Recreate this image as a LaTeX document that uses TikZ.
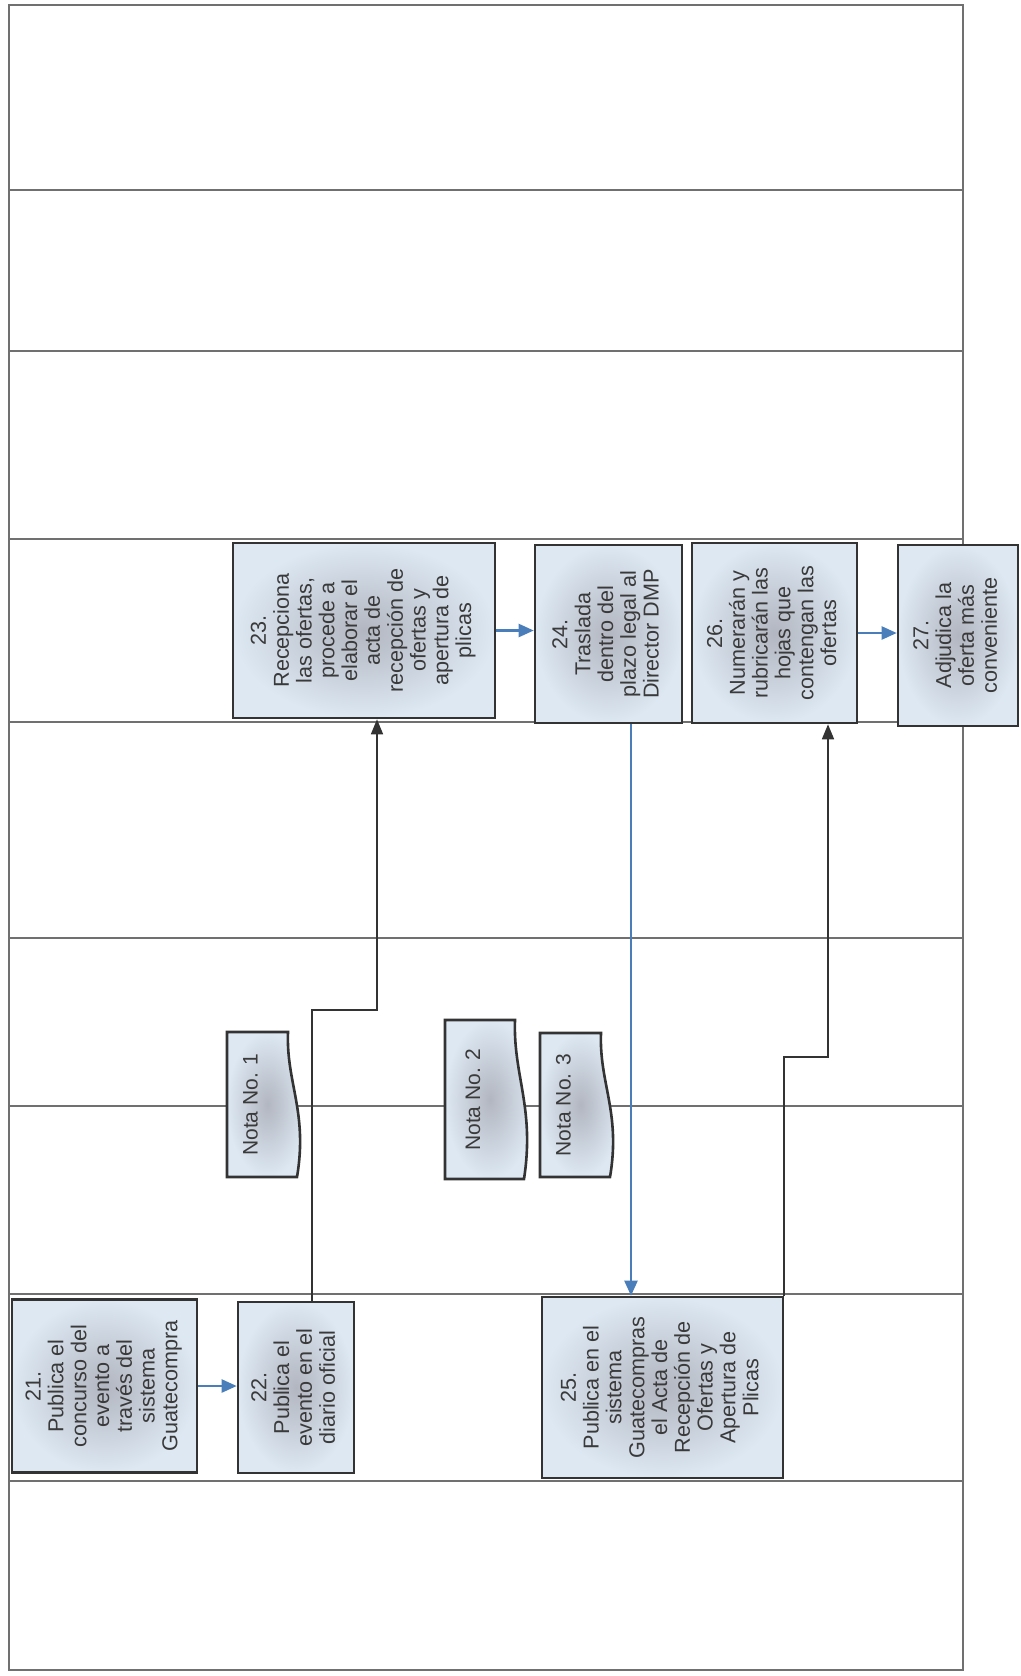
\documentclass[tikz,border=0pt]{standalone}
\usepackage{fontspec}
\setmainfont{Liberation Sans}
\usepackage{graphicx}
\usetikzlibrary{arrows.meta,positioning,calc}
\definecolor{lanegray}{HTML}{707070}
\definecolor{boxedge}{HTML}{333333}
\definecolor{boxfill}{HTML}{DDE8F3}
\definecolor{boxcore}{HTML}{B2B6C0}
\definecolor{flowblue}{HTML}{4A7EBB}
\definecolor{txt}{HTML}{3A3A3A}

% rotated multi-line text
\newcommand{\vlines}[1]{\rotatebox{90}{\begin{tabular}{@{}c@{}}#1\end{tabular}}}

% document shape with wavy right side: name, x1, y1, x2, y2, text
\newcommand{\nota}[6]{%
  \path[notashape] (#2,#3) -- (#4-12,#3)
    .. controls (#4-14,{#3+0.35*(#5-#3)}) and (#4+8,{#3+0.55*(#5-#3)}) .. (#4-3,#5)
    -- (#2,#5) -- cycle;
  \node[notatext] (#1) at ({(#2+#4)/2-13},{(#3+#5)/2}) {\rotatebox{90}{#6}};
}

\begin{document}
\begin{tikzpicture}[x=0.5pt, y=-0.5pt,
  proc/.style 2 args={rectangle, draw=boxedge, line width=1.3pt, shading=radial,
    inner color=boxcore, outer color=boxfill, minimum width={#1*0.5pt}, minimum height={#2*0.5pt},
    inner sep=0pt, font=\fontsize{10.8}{11.4}\selectfont, text=txt},
  notashape/.style={draw=boxedge, line width=1.3pt, shading=radial, inner color=boxcore, outer color=boxfill},
  notatext/.style={inner sep=0pt, font=\fontsize{10.5}{11.4}\selectfont, text=txt},
  lane/.style={draw=lanegray, line width=0.8pt},
  flow/.style={draw=flowblue, line width=1.15pt, -{Triangle[length=7.5pt,width=6.5pt]}},
  link/.style={draw=boxedge, line width=0.85pt, -{Triangle[length=7.5pt,width=6pt]}}
]
  \useasboundingbox (0,0) rectangle (1021,1676);
  \fill[white] (0,0) rectangle (1021,1676);

  % lanes
  \draw[lane] (9,5) rectangle (963,1670);
  \foreach \y in {190,351,539,722,938,1106,1294,1481}
    \draw[lane] (9,\y) -- (963,\y);

  % activities
  \node[proc={185}{173}] (p21) at (104.5,1386) {\vlines{21.\\Publica el\\concurso del\\evento a\\través del\\sistema\\Guatecompra}};
  \node[proc={116}{171}] (p22) at (296,1387.5) {\vlines{22.\\Publica el\\evento en el\\diario oficial}};
  \node[proc={262}{175}] (p23) at (364,630.5) {\vlines{23.\\Recepciona\\las ofertas,\\procede a\\elaborar el\\acta de\\recepción de\\ofertas y\\apertura de\\plicas}};
  \node[proc={147}{178}] (p24) at (608.5,634) {\vlines{24.\\Traslada\\dentro del\\plazo legal al\\Director DMP}};
  \node[proc={241}{181}] (p25) at (662.5,1387.5) {\vlines{25.\\Publica en el\\sistema\\Guatecompras\\el Acta de\\Recepción de\\Ofertas y\\Apertura de\\Plicas}};
  \node[proc={165}{180}] (p26) at (774.5,633) {\vlines{26.\\Numerarán y\\rubricarán las\\hojas que\\contengan las\\ofertas}};
  \node[proc={120}{181}] (p27) at (958,635.5) {\vlines{27.\\Adjudica la\\oferta más\\conveniente}};

  % notes
  \nota{n1}{227}{1032}{300}{1177}{Nota No. 1}
  \nota{n2}{445}{1020}{527}{1179}{Nota No. 2}
  \nota{n3}{540}{1033}{613}{1177}{Nota No. 3}

  % bends
  \coordinate (j1) at (312,1010);
  \coordinate (j2) at (377,1010);
  \coordinate (v24) at (631,1000);
  \coordinate (j3) at (784,1057);
  \coordinate (j4) at (828,1057);

  % connectors
  \draw[flow] (p21.east) -- (p21.east -| p22.west);
  \draw[link] (p22.north -| j1) -- (j1) -- (j2) -- (j2 |- p23.south);
  \draw[flow] (p23.east) -- (p23.east -| p24.west);
  \draw[flow] (p24.south -| v24) -- (p25.north -| v24);
  \draw[link] (p25.north -| j3) -- (j3) -- (j4) -- (j4 |- p26.south);
  \draw[flow] (p26.east) -- (p26.east -| p27.west);
\end{tikzpicture}
\end{document}
